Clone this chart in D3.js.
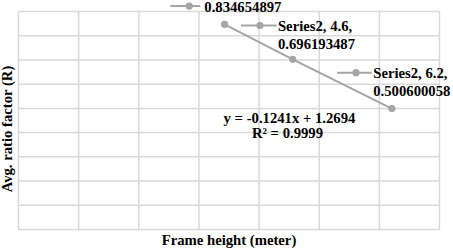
<!DOCTYPE html>
<html><head><meta charset="utf-8">
<script src="https://cdn.jsdelivr.net/npm/d3@7/dist/d3.min.js"></script>
<style>
html,body{margin:0;padding:0;background:#fff;overflow:hidden;}
text{font-family:"Liberation Serif","Times New Roman",serif;font-weight:bold;fill:#000;}
</style></head>
<body>
<svg id="chart" width="453" height="250"></svg>
<script>
// ---- data ----
const seriesName = "Series2";
const xValues = [3.5, 4.6, 6.2];
const yValues = [0.834654897, 0.696193487, 0.500600058];
const labelLines = [
  ["0.834654897"],
  ["Series2, 4.6,", "0.696193487"],
  ["Series2, 6.2,", "0.500600058"]
];
const trendSlope = -0.1241;
const trendIntercept = 1.2694;
const rSquared = 0.9999;
const xTitle = "Frame height (meter)";
const yTitle = "Avg. ratio factor (R)";

// ---- layout ----
const W = 453, H = 250;
const plot = {left: 18.5, right: 439.5, top: 11.5, bottom: 229.5};
const xDomain = [0.173, 6.969];
const yDomain = [0.0203, 0.886];
const nXGrid = 7, nYGrid = 9;
// label key-dot offset from point, and text start offset from key dot
const labelLayout = [
  {dx: -35.3, dy: -18.4, textDx: 15, lineEnd: 11},
  {dx: -32.8, dy: -33.8, textDx: 18, lineEnd: 16.7},
  {dx: -35.9, dy: -35.9, textDx: 17.3, lineEnd: 15.7}
];

const svg = d3.select("#chart");
const x = d3.scaleLinear().domain(xDomain).range([plot.left, plot.right]);
const y = d3.scaleLinear().domain(yDomain).range([plot.bottom, plot.top]);

const grid = svg.append("g");
const xg = d3.range(nXGrid + 1).map(i => xDomain[0] + i * (xDomain[1] - xDomain[0]) / nXGrid);
const yg = d3.range(nYGrid + 1).map(i => yDomain[0] + i * (yDomain[1] - yDomain[0]) / nYGrid);
grid.selectAll("line.v").data(xg).join("line")
  .attr("x1", d => x(d)).attr("x2", d => x(d))
  .attr("y1", plot.top).attr("y2", plot.bottom)
  .attr("stroke", "#d9d9d9").attr("stroke-width", 1.5);
grid.selectAll("line.h").data(yg).join("line")
  .attr("y1", d => y(d)).attr("y2", d => y(d))
  .attr("x1", plot.left).attr("x2", plot.right)
  .attr("stroke", "#d9d9d9").attr("stroke-width", 1.5);

const pts = xValues.map((v, i) => ({x: v, y: yValues[i], lines: labelLines[i], lay: labelLayout[i]}));

svg.append("path").datum(pts)
  .attr("d", d3.line().x(d => x(d.x)).y(d => y(d.y)))
  .attr("fill", "none").attr("stroke", "#a5a5a5").attr("stroke-width", 2);
svg.selectAll("circle.pt").data(pts).join("circle")
  .attr("cx", d => x(d.x)).attr("cy", d => y(d.y)).attr("r", 3.6)
  .attr("fill", "#a5a5a5");

// data labels with legend keys
const lab = svg.selectAll("g.lab").data(pts).join("g");
lab.each(function(d) {
  const g = d3.select(this);
  const kx = x(d.x) + d.lay.dx, ky = y(d.y) + d.lay.dy;
  g.append("line").attr("x1", kx - 19).attr("x2", kx + d.lay.lineEnd)
    .attr("y1", ky).attr("y2", ky).attr("stroke", "#a5a5a5").attr("stroke-width", 2);
  g.append("circle").attr("cx", kx).attr("cy", ky).attr("r", 3.6).attr("fill", "#a5a5a5");
  d.lines.forEach((t, j) => {
    g.append("text").attr("x", kx + d.lay.textDx).attr("y", ky + 5.8 + j * 17.5)
      .attr("font-size", 14.7).text(t);
  });
});

// trendline equation
const eq = "y = " + trendSlope.toFixed(4) + "x + " + trendIntercept.toFixed(4);
svg.append("text").attr("x", 289.5).attr("y", 122.5).attr("text-anchor", "middle")
  .attr("font-size", 14.7).text(eq);
svg.append("text").attr("x", 287.5).attr("y", 138).attr("text-anchor", "middle")
  .attr("font-size", 14.7).text("R² = " + rSquared.toFixed(4));

// axis titles
svg.append("text").attr("x", 229).attr("y", 244.5).attr("text-anchor", "middle")
  .attr("font-size", 14.7).text(xTitle);
svg.append("text").attr("transform", "translate(11.5,129) rotate(-90)")
  .attr("text-anchor", "middle").attr("font-size", 14.7).text(yTitle);
</script>
</body></html>
